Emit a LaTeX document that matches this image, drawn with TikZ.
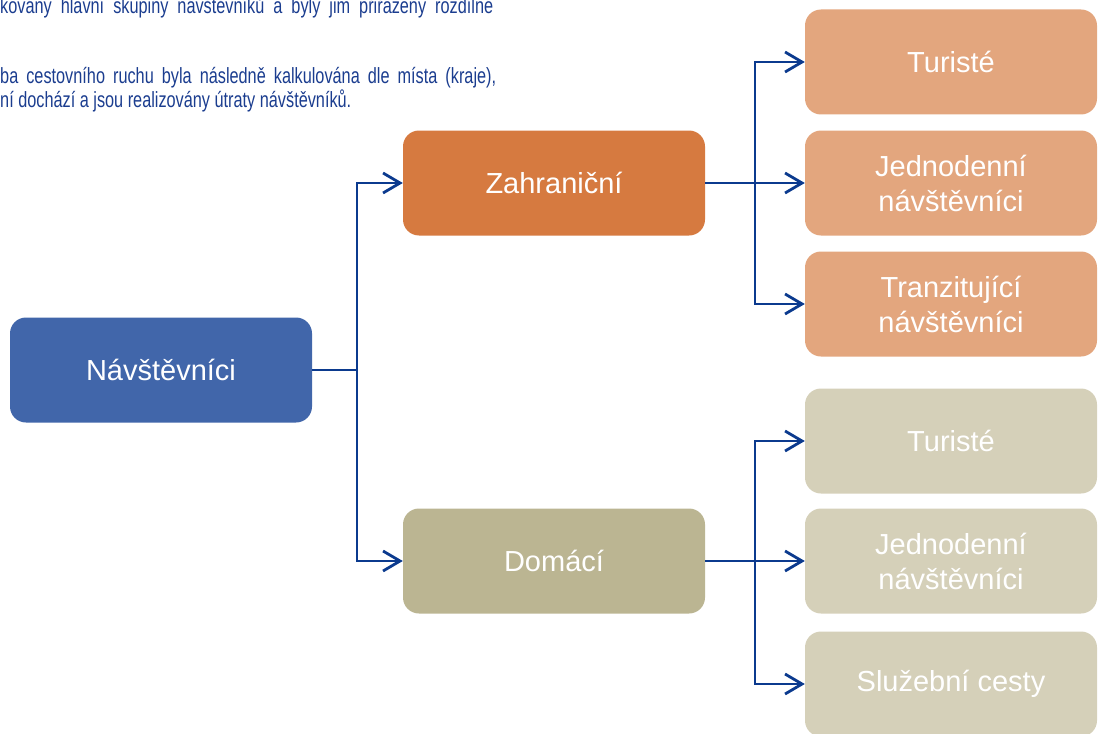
\documentclass[tikz,border=0pt]{standalone}
\usepackage{fontspec}
\setmainfont{Liberation Sans}
\newfontfamily\narrowf[FakeStretch=0.74]{Liberation Sans}
\usetikzlibrary{arrows.meta}
\definecolor{navy}{HTML}{0B3A8E}
\definecolor{txtblue}{HTML}{1B3D8F}
\definecolor{cnav}{HTML}{4166AA}
\definecolor{czah}{HTML}{D67A40}
\definecolor{czahl}{HTML}{E3A67E}
\definecolor{cdom}{HTML}{BBB592}
\definecolor{cdoml}{HTML}{D5D0B9}
\begin{document}
\begin{tikzpicture}[x=1pt,y=-1pt,
  box/.style={rounded corners=16pt, minimum height=105pt, inner sep=0pt,
    text=white, align=center, font=\fontsize{29}{35}\selectfont},
  midbox/.style={box, minimum width=302pt},
  rbox/.style={box, minimum width=292pt},
  conn/.style={draw=navy, line width=2.8pt},
  arr/.style={conn, -{Straight Barb[length=17pt,width=20pt,line width=2.8pt]}},
  para/.style={anchor=base west, inner sep=0pt, text=txtblue, font=\narrowf\fontsize{22}{24}\selectfont}]
\useasboundingbox (0,0) rectangle (1099,733);
\clip (0,0) rectangle (1099,733);
% top text
\node[para] (t1) at (0,14) {\makebox[493pt][s]{kovány hlavní skupiny návštěvníků a byly jim přiřazeny rozdílné}};
\node[para] (t2) at (0,84) {\makebox[496pt][s]{ba cestovního ruchu byla následně kalkulována dle místa (kraje),}};
\node[para] (t3) at (0,108) {ní dochází a jsou realizovány útraty návštěvníků.};
% boxes
\node[midbox, fill=cnav] (nav) at (161,370) {Návštěvníci};
\node[midbox, fill=czah] (zah) at (554,183) {Zahraniční};
\node[midbox, fill=cdom] (dom) at (554,561) {Domácí};
\node[rbox, fill=czahl] (tur1) at (951,62) {Turisté};
\node[rbox, fill=czahl] (jed1) at (951,183) {Jednodenní\\návštěvníci};
\node[rbox, fill=czahl] (tra) at (951,304) {Tranzitující\\návštěvníci};
\node[rbox, fill=cdoml] (tur2) at (951,441) {Turisté};
\node[rbox, fill=cdoml] (jed2) at (951,561) {Jednodenní\\návštěvníci};
\node[rbox, fill=cdoml] (slu) at (951,684) {Služební cesty};
% connectors
\coordinate (j1) at (357,370);
\coordinate (j2) at (755,183);
\coordinate (j3) at (755,561);
\draw[conn] (nav.east) -- (j1);
\draw[arr] (j1) |- (zah.west);
\draw[arr] (j1) |- (dom.west);
\draw[arr] (zah.east) -- (jed1.west);
\draw[arr] (j2) |- (tur1.west);
\draw[arr] (j2) |- (tra.west);
\draw[arr] (dom.east) -- (jed2.west);
\draw[arr] (j3) |- (tur2.west);
\draw[arr] (j3) |- (slu.west);
\end{tikzpicture}
\end{document}
